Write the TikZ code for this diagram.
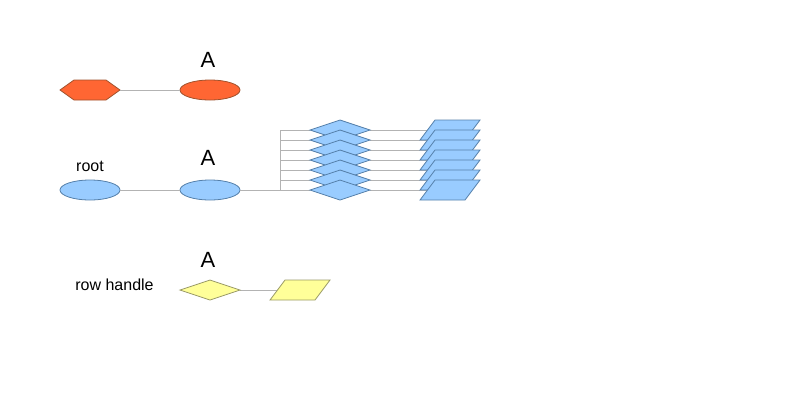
\documentclass[tikz,border=0pt]{standalone}
\usepackage{fontspec}
\setmainfont{Liberation Sans}
\usetikzlibrary{shapes.geometric}
\definecolor{orfill}{HTML}{FF6633}
\definecolor{ordraw}{HTML}{A0522D}
\definecolor{blfill}{HTML}{99CCFF}
\definecolor{bldraw}{HTML}{5580AA}
\definecolor{yefill}{HTML}{FFFF99}
\definecolor{yedraw}{HTML}{999966}
\definecolor{conn}{HTML}{B3B3B3}
\tikzset{
  shp/.style={inner sep=0pt, outer sep=0pt, minimum width=60pt, minimum height=20pt, line width=0.8pt},
  oval/.style={shp, ellipse},
  box/.style={inner sep=0pt, outer sep=0pt, minimum width=60pt, minimum height=20pt},
  pbox/.style={box, minimum width=45pt},
  orng/.style={fill=orfill, draw=ordraw, line width=0.8pt},
  blue/.style={fill=blfill, draw=bldraw, line width=0.8pt},
  yell/.style={fill=yefill, draw=yedraw, line width=0.8pt},
  link/.style={draw=conn, line width=1pt},
  bigA/.style={font=\fontsize{22}{26}\selectfont, anchor=base, inner sep=0pt},
  lbl/.style={font=\fontsize{16}{19}\selectfont, anchor=base, inner sep=0pt},
}
\newcommand{\diapath}[2]{\path[#2] (#1.west) -- (#1.north) -- (#1.east) -- (#1.south) -- cycle;}
\newcommand{\parapath}[2]{\path[#2] ([xshift=-7.5pt]#1.south west) -- ([xshift=7.5pt]#1.north west) -- ([xshift=7.5pt]#1.north east) -- ([xshift=-7.5pt]#1.south east) -- cycle;}
\begin{document}
\begin{tikzpicture}[x=1pt,y=-1pt]
\useasboundingbox (0,0) rectangle (800,400);
% row 1
\node[box] (h) at (90,90) {};
\path[orng] (h.west) -- ([xshift=14pt]h.north west) -- ([xshift=-14pt]h.north east) -- (h.east) -- ([xshift=-14pt]h.south east) -- ([xshift=14pt]h.south west) -- cycle;
\node[oval, orng] (e1) at (210,90) {};
\node[bigA] (A1) at (208,67) {A};
\draw[link] (h.east) -- (e1.west);
% row 2
\node[lbl] (root) at (90,171) {root};
\node[oval, blue] (r) at (90,190) {};
\node[oval, blue] (e2) at (210,190) {};
\node[bigA] (A2) at (208,165) {A};
\draw[link] (r.east) -- (e2.west);
\coordinate (j) at (280,190);
\draw[link] (e2.east) -- (j);
\foreach \i in {1,...,7} {
  \pgfmathsetmacro{\yy}{120+10*\i}
  \node[box] (d\i) at (340,\yy) {};
  \node[pbox] (p\i) at (450,\yy) {};
  \draw[link] (j) |- (d\i.west);
  \draw[link] (d\i.east) -- (p\i.west);
}
\foreach \i in {1,...,7} {
  \diapath{d\i}{blue}
}
\foreach \i in {1,...,7} {
  \parapath{p\i}{blue}
}
% row 3
\node[lbl] (rh) at (114.5,290) {row handle};
\node[box] (y1) at (210,290) {};
\node[pbox] (y2) at (300,290) {};
\node[bigA] (A3) at (208,267) {A};
\draw[link] (y1.east) -- (y2.west);
\diapath{y1}{yell}
\parapath{y2}{yell}
\end{tikzpicture}
\end{document}
